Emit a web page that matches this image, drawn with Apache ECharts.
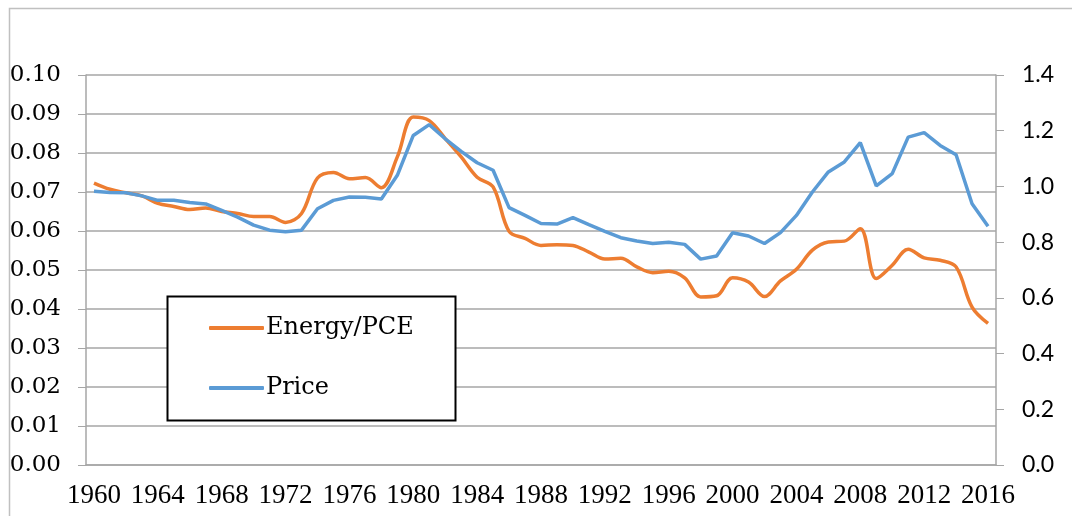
<!DOCTYPE html>
<html lang="en">
<head>
    <meta charset="UTF-8">
    <title>Energy/PCE and Price</title>
    <script src="https://cdn.jsdelivr.net/npm/echarts@6/dist/echarts.min.js"></script>
    <style>
        html, body { margin: 0; padding: 0; background: #fff; }
        #main { width: 1072px; height: 516px; }
    </style>
</head>
<body>
<div id="main"></div>
<script>
    // years 1960-2016
    var years = [];
    for (var y = 1960; y <= 2016; y++) years.push(String(y));

    // energy spending share of PCE (left axis)
    var energyPCE = [
        0.0723, 0.0707, 0.0698, 0.0690, 0.0671, 0.0663, 0.0655, 0.0659, 0.0650, 0.0645,
        0.0637, 0.0637, 0.0622, 0.0645, 0.0736, 0.0750, 0.0734, 0.0737, 0.0711, 0.0790,
        0.0892, 0.0883, 0.0837, 0.0790, 0.0738, 0.0713, 0.0599, 0.0581, 0.0563, 0.0565,
        0.0563, 0.0546, 0.0528, 0.0530, 0.0508, 0.0493, 0.0497, 0.0480, 0.0431, 0.0434,
        0.0480, 0.0469, 0.0432, 0.0472, 0.0502, 0.0551, 0.0572, 0.0574, 0.0606, 0.0478,
        0.0512, 0.0553, 0.0531, 0.0525, 0.0508, 0.0405, 0.0363
    ];

    // relative energy price (right axis)
    var price = [
        0.983, 0.978, 0.977, 0.966, 0.950, 0.950, 0.942, 0.937, 0.914, 0.890,
        0.861, 0.843, 0.837, 0.843, 0.920, 0.950, 0.962, 0.961, 0.955, 1.040,
        1.183, 1.222, 1.171, 1.126, 1.085, 1.058, 0.924, 0.896, 0.867, 0.865,
        0.888, 0.863, 0.839, 0.816, 0.804, 0.795, 0.800, 0.792, 0.739, 0.750,
        0.834, 0.822, 0.795, 0.834, 0.896, 0.980, 1.052, 1.088, 1.157, 1.002,
        1.046, 1.177, 1.193, 1.147, 1.114, 0.938, 0.857
    ];

    var axisGray = '#a6a6a6';
    var myChart = echarts.init(document.getElementById('main'));
    var option = {
        animation: false,
        backgroundColor: '#fff',
        grid: { left: 86, right: 76, top: 75, bottom: 51 },
        graphic: [
            {
                type: 'rect',
                shape: { x: 9.5, y: 8.5, width: 1100, height: 600 },
                style: { fill: 'none', stroke: '#c0c0c0', lineWidth: 1.5 },
                z: 0
            },
            {
                type: 'rect',
                shape: { x: 167.5, y: 296.5, width: 288, height: 124 },
                style: { fill: '#fff', stroke: '#000', lineWidth: 2 },
                z: 10
            }
        ],
        legend: {
            orient: 'vertical',
            left: 204,
            top: 311,
            itemGap: 36,
            itemWidth: 55,
            itemHeight: 4,
            icon: 'roundRect',
            z: 20,
            textStyle: { fontFamily: 'DejaVu Serif', fontSize: 24, color: '#000', padding: [0, 0, 0, -3] },
            data: ['Energy/PCE', 'Price']
        },
        xAxis: {
            type: 'category',
            data: years,
            boundaryGap: true,
            axisLine: { lineStyle: { color: axisGray, width: 1.5 } },
            axisTick: { interval: 0, length: 7, lineStyle: { color: axisGray, width: 1 } },
            axisLabel: {
                interval: 3,
                hideOverlap: false,
                margin: 17,
                color: '#000',
                formatter: function (v) { return '{t|' + v + '}'; },
                rich: {
                    t: { fontFamily: 'Liberation Serif', fontSize: 27, color: '#000' }
                }
            },
            splitLine: { show: false }
        },
        yAxis: [
            {
                type: 'value',
                min: 0,
                max: 0.1,
                interval: 0.01,
                axisLine: { show: true, lineStyle: { color: axisGray, width: 1.5 } },
                axisTick: { show: true, length: 8, lineStyle: { color: axisGray } },
                axisLabel: {
                    margin: 25,
                    fontFamily: 'DejaVu Serif',
                    fontSize: 23,
                    color: '#000',
                    formatter: function (v) { return v.toFixed(2); }
                },
                splitLine: { lineStyle: { color: axisGray, width: 1.5 } }
            },
            {
                type: 'value',
                min: 0,
                max: 1.4,
                interval: 0.2,
                position: 'right',
                axisLine: { show: true, lineStyle: { color: axisGray, width: 1.5 } },
                axisTick: { show: true, length: 8, lineStyle: { color: axisGray } },
                axisLabel: {
                    margin: 26,
                    fontFamily: 'Lato',
                    fontSize: 23,
                    color: '#000',
                    formatter: function (v) { return v.toFixed(1); }
                },
                splitLine: { show: false }
            }
        ],
        series: [
            {
                name: 'Energy/PCE',
                type: 'line',
                yAxisIndex: 0,
                data: energyPCE,
                smooth: 0.35,
                showSymbol: false,
                lineStyle: { color: '#ED7D31', width: 3.5 },
                itemStyle: { color: '#ED7D31' },
                z: 3
            },
            {
                name: 'Price',
                type: 'line',
                yAxisIndex: 1,
                data: price,
                showSymbol: false,
                lineStyle: { color: '#5B9BD5', width: 3.5 },
                itemStyle: { color: '#5B9BD5' },
                z: 4
            }
        ]
    };
    myChart.setOption(option);
</script>
</body>
</html>
